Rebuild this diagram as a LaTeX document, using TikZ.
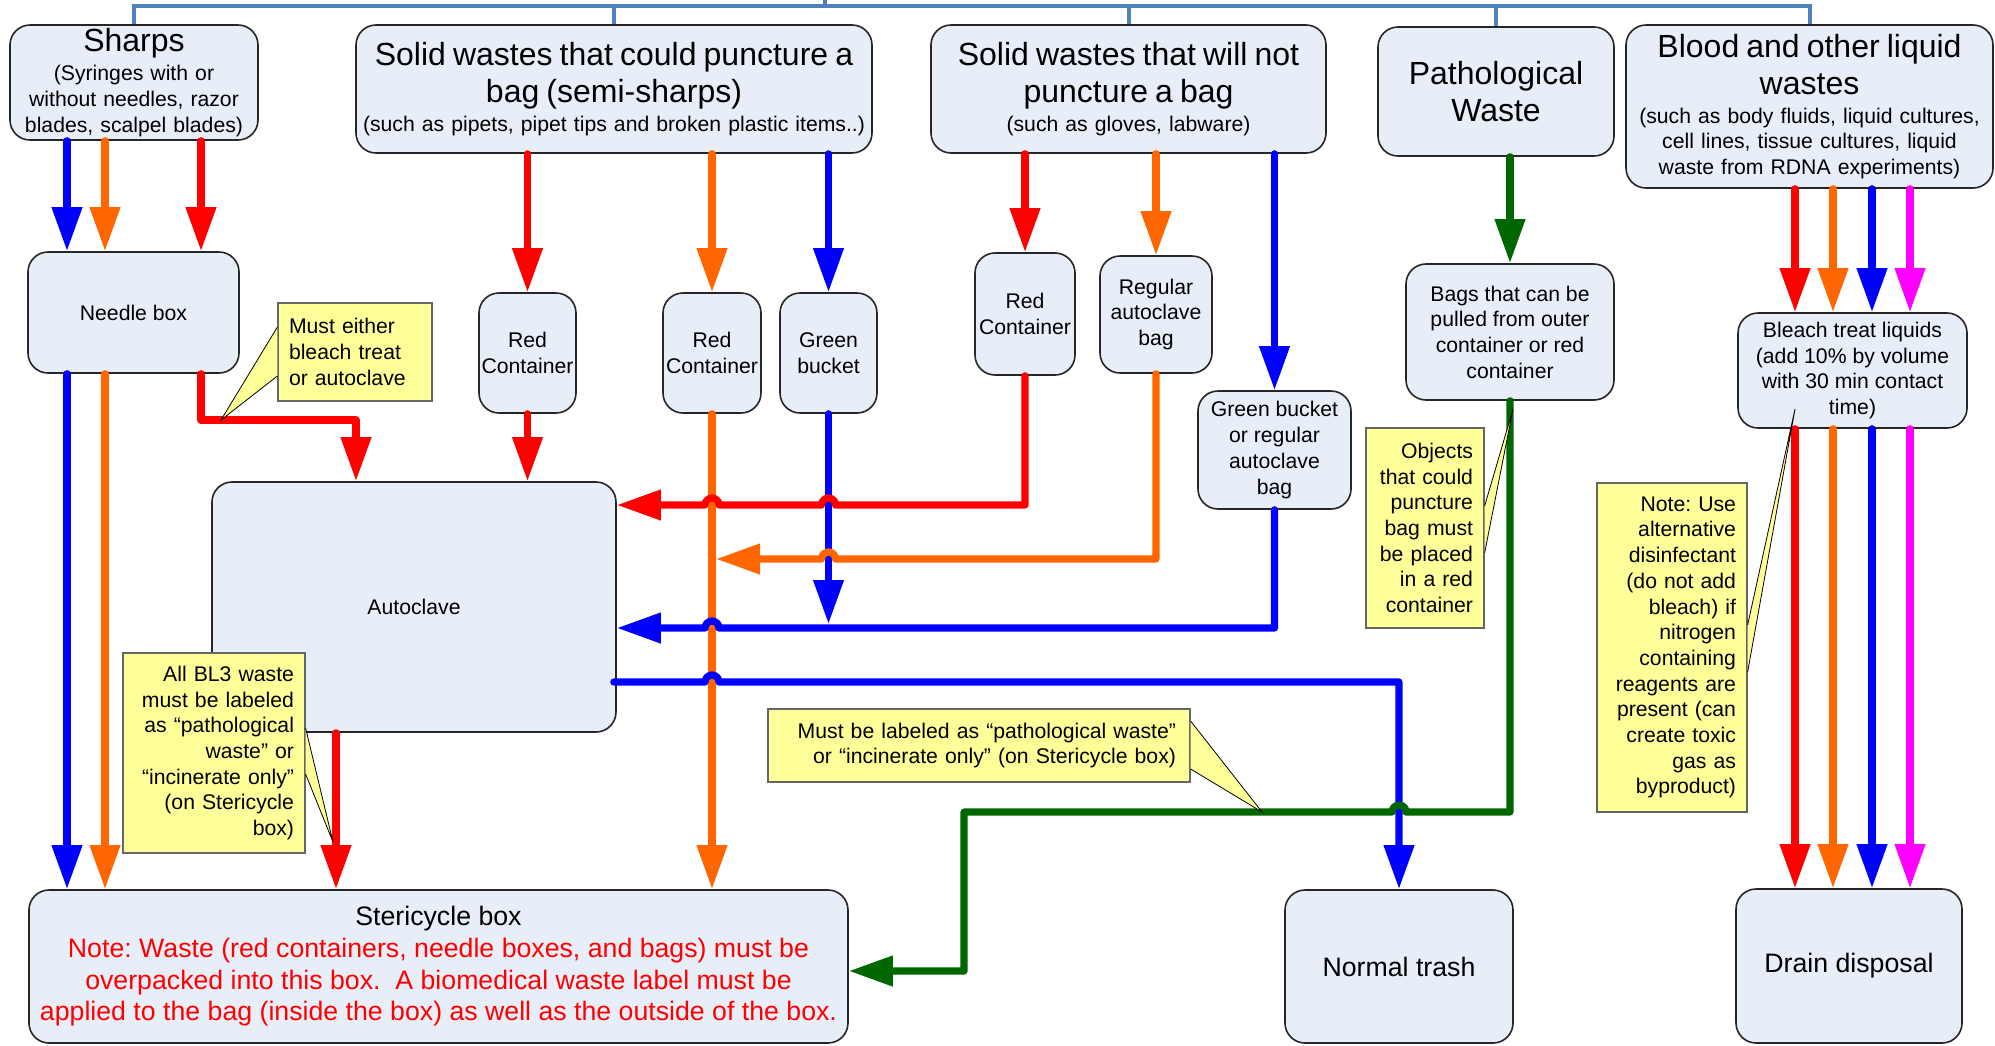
\documentclass[tikz,border=0pt]{standalone}
\usepackage{fontspec}
\setmainfont{Liberation Sans}
\usetikzlibrary{arrows.meta,calc}

\definecolor{wred}{RGB}{255,0,0}
\definecolor{worange}{RGB}{255,102,0}
\definecolor{wblue}{RGB}{0,0,255}
\definecolor{wmagenta}{RGB}{255,0,255}
\definecolor{wgreen}{RGB}{0,102,0}
\definecolor{busblue}{RGB}{79,129,189}
\definecolor{boxfill}{RGB}{232,238,247}
\definecolor{notefill}{RGB}{255,255,153}

\newcommand{\txtsmall}{\fontsize{10.6pt}{12.85pt}\selectfont}
\newcommand{\txthead}{\fontsize{16pt}{18.6pt}\selectfont}
\newcommand{\txtbig}{\fontsize{13.35pt}{15.85pt}\selectfont}
\newcommand{\headtext}[1]{{\txthead #1\par}}
\setlength{\parindent}{0pt}
\hyphenpenalty=10000
\frenchspacing

\tikzset{every picture/.style={line width=0.75pt}}
\tikzset{
  wbox/.style={draw=black!85, fill=boxfill, rounded corners=10pt, line width=0.8pt,
    inner sep=0pt, align=center, font=\txtsmall},
  notebox/.style={draw=black!60, fill=notefill, line width=0.6pt, inner sep=0pt, font=\txtsmall},
  wedge/.style={draw=black, fill=notefill, line width=0.4pt},
  bus/.style={draw=busblue, line width=2pt},
  flow/.style={line width=3.6pt, line cap=round, line join=round, -{Triangle[length=22pt,width=14.5pt]}}
}

\begin{document}
\begin{tikzpicture}[x=0.5pt,y=0.5pt,yscale=-1,xscale=1]
\path[use as bounding box, fill=white] (0,0) rectangle (1995,1045);

% rows and columns of the pipes
\coordinate (bus) at (0,6);
\coordinate (root) at (825,-8);
\coordinate (colB) at (67,0);
\coordinate (colO) at (105,0);
\coordinate (colR) at (201,0);
\coordinate (colA) at (336,0);
\coordinate (kneeR) at (356,420);
\coordinate (rowR) at (0,505);
\coordinate (rowO) at (0,559);
\coordinate (rowB) at (0,628);
\coordinate (rowT) at (0,682);
\coordinate (rowG) at (0,812);
\coordinate (kneeG) at (964,971);
\coordinate (lq1) at (1795,0);
\coordinate (lq2) at (1833,0);
\coordinate (lq3) at (1872,0);
\coordinate (lq4) at (1910,0);

%Shape: Rounded Rect (waste kinds)
\node[wbox, minimum height=57.5pt, text width=124pt] (sharps) at (134,82.5) {\headtext{Sharps}\vskip1.6pt (Syringes with or\\ without needles, razor\\ blades, scalpel blades)};
\node[wbox, minimum height=64pt, text width=258pt] (semi) at (614,89) {\headtext{Solid wastes that could puncture a\\ bag (semi-sharps)}\vskip1.6pt (such as pipets, pipet tips and broken plastic items..)};
\node[wbox, minimum height=64pt, text width=197.5pt] (nonpunct) at (1128.5,89) {\headtext{Solid wastes that will not\\ puncture a bag}\vskip1.6pt (such as gloves, labware)};
\node[wbox, minimum height=64.5pt, text width=118pt] (patho) at (1496,91.5) {\headtext{Pathological\\ Waste}};
\node[wbox, minimum height=81.5pt, text width=183.5pt] (blood) at (1809.5,106.5) {\headtext{Blood and other liquid\\ wastes}\vskip1.6pt (such as body fluids, liquid cultures,\\ cell lines, tissue cultures, liquid\\ waste from RDNA experiments)};

%Shape: Rounded Rect (containers)
\node[wbox, minimum width=105.5pt, minimum height=60.5pt] (needle) at (133.5,312.5) {Needle box};
\node[wbox, minimum width=48.5pt, minimum height=60pt] (rc1) at (527.5,353) {Red\\ Container};
\node[wbox, minimum width=49pt, minimum height=60pt] (rc2) at (712,353) {Red\\ Container};
\node[wbox, minimum width=48.5pt, minimum height=60pt] (gbucket) at (828.5,353) {Green\\ bucket};
\node[wbox, minimum width=50pt, minimum height=61pt] (rc3) at (1025,314) {Red\\ Container};
\node[wbox, minimum width=56pt, minimum height=58.5pt] (regbag) at (1156,314.5) {Regular\\ autoclave\\ bag};
\node[wbox, minimum width=76.5pt, minimum height=59pt] (gbag) at (1274.5,450) {Green bucket\\ or regular\\ autoclave\\ bag};
\node[wbox, minimum width=104pt, minimum height=68pt] (bags) at (1510,332) {Bags that can be\\ pulled from outer\\ container or red\\ container};
\node[wbox, minimum width=114.5pt, minimum height=57.5pt] (bleach) at (1852.5,370.5) {Bleach treat liquids\\ (add 10\% by volume\\ with 30 min contact\\ time)};
\node[wbox, minimum width=202pt, minimum height=125pt] (autoclave) at (414,607) {Autoclave};

%Shape: Rounded Rect (disposal)
\node[wbox, font=\txtbig, minimum width=409.5pt, minimum height=76.5pt] (steri) at (438.5,966.5) {Stericycle box\\ \textcolor{wred}{Note: Waste (red containers, needle boxes, and bags) must be}\\ \textcolor{wred}{overpacked into this box.\ \ A biomedical waste label must be}\\ \textcolor{wred}{applied to the bag (inside the box) as well as the outside of the box.}};
\node[wbox, font=\txtbig, minimum width=114pt, minimum height=76.5pt] (trash) at (1399,966.5) {Normal trash};
\node[wbox, font=\txtbig, minimum width=113pt, minimum height=77pt] (drain) at (1849,966) {Drain disposal};

%Straight Lines (top bus)
\draw[bus] (sharps.north) |- (blood.north |- bus) -- (blood.north);
\foreach \n in {semi, nonpunct, patho}
  \draw[bus] (\n.north) -- (\n.north |- bus);
\draw[bus] (root |- bus) -- (root);

% Sharps
\draw[flow, draw=wblue] (sharps.south -| colB) -- (needle.north -| colB);
\draw[flow, draw=worange] (sharps.south -| colO) -- (needle.north -| colO);
\draw[flow, draw=wred] (sharps.south -| colR) -- (needle.north -| colR);
\draw[flow, draw=wblue] (needle.south -| colB) -- (steri.north -| colB);
\draw[flow, draw=worange] (needle.south -| colO) -- (steri.north -| colO);
\draw[flow, draw=wred] (needle.south -| colR) |- (kneeR) -- (autoclave.north -| kneeR);

% semi-sharps
\draw[flow, draw=wred] (semi.south -| rc1) -- (rc1.north);
\draw[flow, draw=worange] (semi.south -| rc2) -- (rc2.north);
\draw[flow, draw=wblue] (semi.south -| gbucket) -- (gbucket.north);
\draw[flow, draw=wred] (rc1.south) -- (autoclave.north -| rc1);
\draw[flow, draw=worange] (rc2.south) -- (steri.north -| rc2);
\draw[flow, draw=wblue] (gbucket.south) -- ($(gbucket.south |- rowB)+(0,-4)$);

% non-puncturing solids
\draw[flow, draw=wred] (nonpunct.south -| rc3) -- (rc3.north);
\draw[flow, draw=worange] (nonpunct.south -| regbag) -- (regbag.north);
\draw[flow, draw=wblue] (nonpunct.south -| gbag) -- (gbag.north);
\draw[flow, draw=wred] (rc3.south) -- (rc3.south |- rowR)
  -- ($(gbucket.south |- rowR)+(7,0)$) arc[start angle=0, end angle=-180, radius=7]
  -- ($(rc2.south |- rowR)+(7,0)$) arc[start angle=0, end angle=-180, radius=7]
  -- (autoclave.east |- rowR);
\draw[flow, draw=worange] (regbag.south) -- (regbag.south |- rowO)
  -- ($(gbucket.south |- rowO)+(7,0)$) arc[start angle=0, end angle=-180, radius=7]
  -- ($(rc2.south |- rowO)+(4,0)$);
\draw[flow, draw=wblue] (gbag.south) -- (gbag.south |- rowB)
  -- ($(rc2.south |- rowB)+(7,0)$) arc[start angle=0, end angle=-180, radius=7]
  -- (autoclave.east |- rowB);

% autoclave out
\draw[flow, draw=wblue] ($(autoclave.east |- rowT)+(-3,0)$)
  -- ($(rc2.south |- rowT)+(-7,0)$) arc[start angle=180, end angle=360, radius=7]
  -- (trash.north |- rowT) -- (trash.north);
\draw[flow, draw=wred] (autoclave.south -| colA) -- (steri.north -| colA);

% pathological
\draw[flow, draw=wgreen] (patho.south -| bags) -- (bags.north);
\draw[flow, draw=wgreen] (bags.south) -- (bags.south |- rowG)
  -- ($(trash.north |- rowG)+(7,0)$) arc[start angle=0, end angle=-180, radius=7]
  -- (kneeG |- rowG) -- (kneeG) -- (steri.east |- kneeG);

% liquids
\foreach \c/\col in {lq1/wred, lq2/worange, lq3/wblue, lq4/wmagenta} {
  \draw[flow, draw=\col] (blood.south -| \c) -- (bleach.north -| \c);
  \draw[flow, draw=\col] (bleach.south -| \c) -- (drain.north -| \c);
}

% callouts
\coordinate (tipA) at (221,420);
\coordinate (tipB) at (333,842);
\coordinate (tipC) at (1262,812);
\coordinate (tipD) at (1513,409);
\coordinate (tipE) at (1795,409);

\node[notebox, minimum width=77pt, minimum height=49pt, text width=66pt, align=left] (bleachnote) at (355,352) {Must either\\ bleach treat\\ or autoclave};
\path[wedge] ([yshift=12pt]bleachnote.west) -- (tipA) -- ([yshift=-12.5pt]bleachnote.west);

\node[notebox, minimum width=91pt, minimum height=100pt, text width=80pt, align=right] (bl3note) at (214,753) {All BL3 waste\\ must be labeled\\ as “pathological\\ waste” or\\ “incinerate only”\\ (on Stericycle\\ box)};
\path[wedge] ([yshift=10.5pt]bl3note.east) -- (tipB) -- ([yshift=-12.5pt]bl3note.east);

\node[notebox, minimum width=211pt, minimum height=36.5pt, text width=197pt, align=right] (labelnote) at (979,745.5) {Must be labeled as “pathological waste”\\ or “incinerate only” (on Stericycle box)};
\path[wedge] ([yshift=11.75pt]labelnote.east) -- (tipC) -- ([yshift=-12.25pt]labelnote.east);

\node[notebox, minimum width=59pt, minimum height=100pt, text width=48pt, align=right] (objnote) at (1425,528) {Objects\\ that could\\ puncture\\ bag must\\ be placed\\ in a red\\ container};
\path[wedge] ([yshift=12.5pt]objnote.east) -- (tipD) -- ([yshift=-11pt]objnote.east);

\node[notebox, minimum width=75pt, minimum height=164.5pt, text width=64pt, align=right] (alternote) at (1672,647.5) {Note: Use\\ alternative\\ disinfectant\\ (do not add\\ bleach) if\\ nitrogen\\ containing\\ reagents are\\ present (can\\ create toxic\\ gas as\\ byproduct)};
\path[wedge] ([yshift=12.25pt]alternote.east) -- (tipE) -- ([yshift=-11.25pt]alternote.east);
\end{tikzpicture}
\end{document}
